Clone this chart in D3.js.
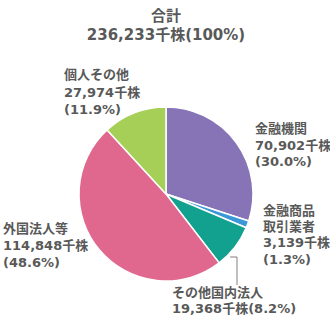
<!DOCTYPE html>
<html><head><meta charset="utf-8">
<script src="https://cdn.jsdelivr.net/npm/d3@7"></script>
<style>
html,body{margin:0;padding:0;background:#fff;}
text{font-family:"DejaVu Sans","Noto Sans CJK JP",sans-serif;font-weight:bold;fill:#595959;}
</style></head>
<body>
<svg id="c" width="330" height="320"></svg>
<script>
const categories = ["金融機関","金融商品取引業者","その他国内法人","外国法人等","個人その他"];
const values = [70902, 3139, 19368, 114848, 27974];
const percents = ["30.0%","1.3%","8.2%","48.6%","11.9%"];
const innerColors = ["#ab9fcb","#4aa6e0","#3bb9ab","#eaa6b6","#c8e184"];
const outerColors = ["#8674b7","#3a98d8","#13a18f","#e0688f","#a6cf58"];
const labelLines = [
  ["金融機関","70,902千株","(30.0%)"],
  ["金融商品","取引業者","3,139千株","(1.3%)"],
  ["その他国内法人","19,368千株(8.2%)"],
  ["外国法人等","114,848千株","(48.6%)"],
  ["個人その他","27,974千株","(11.9%)"]
];
const titleLines = ["合計","236,233千株(100%)"];

const svg = d3.select("#c");
const cx = 166, cy = 194, R = 87;
const defs = svg.append("defs");
categories.forEach((c,i)=>{
  const g = defs.append("radialGradient").attr("id","g"+i)
    .attr("gradientUnits","userSpaceOnUse").attr("cx",cx).attr("cy",cy).attr("r",R);
  g.append("stop").attr("offset","0%").attr("stop-color",innerColors[i]);
  g.append("stop").attr("offset","100%").attr("stop-color",outerColors[i]);
});

const pie = d3.pie().sort(null).value(d=>d);
const arc = d3.arc().innerRadius(0).outerRadius(R);
const gp = svg.append("g");
gp.selectAll("path").data(pie(values)).join("path")
  .attr("transform",`translate(${cx},${cy})`)
  .attr("d",arc)
  .attr("fill",(d,i)=>`url(#g${i})`)
  .attr("stroke","#fff").attr("stroke-width",1.5).attr("stroke-linejoin","round");

// title
const t = svg.append("text").attr("text-anchor","middle").style("font-size","15px");
titleLines.forEach((l,i)=>t.append("tspan").attr("x",166).attr("y",21+i*19).text(l));

// labels
const pos = [
  {x:255,y:133,lh:16.5},
  {x:263,y:215,lh:16.2},
  {x:172,y:297,lh:16},
  {x:3,y:233,lh:17},
  {x:64,y:79,lh:17.5}
];
labelLines.forEach((lines,i)=>{
  const tx = svg.append("text").style("font-size","13px");
  lines.forEach((l,j)=>tx.append("tspan").attr("x",pos[i].x).attr("y",pos[i].y+j*pos[i].lh).text(l));
});

// leader line for その他国内法人
svg.append("polyline").attr("points","230,257 237,257 237,285")
  .attr("fill","none").attr("stroke","#808080").attr("stroke-width",1);
</script>
</body></html>
